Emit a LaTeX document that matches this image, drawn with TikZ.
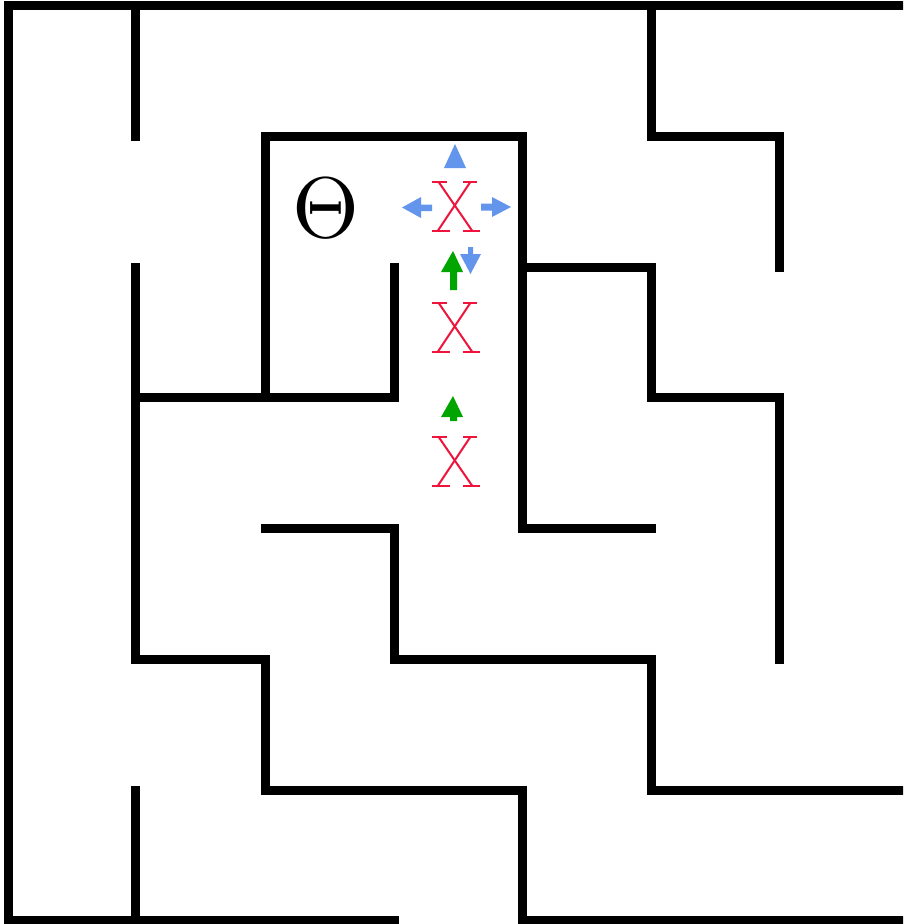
\documentclass[tikz,border=0pt]{standalone}
\usepackage{graphicx}
\definecolor{mazeblue}{RGB}{100,149,237}
\definecolor{mazegreen}{RGB}{0,165,0}
\definecolor{mazered}{RGB}{238,20,60}
\tikzset{
  wall/.style={line width=9pt, line cap=rect, line join=miter, black},
  xstroke/.style={line width=2pt, mazered, line cap=butt},
  redx/.pic={
    \draw[xstroke] (-16,-24) -- (17,24);
    \draw[xstroke] (15,-24) -- (-17,24);
    \draw[xstroke] (-23,-24.5) -- (-8,-24.5);
    \draw[xstroke] (8,-24.5) -- (22,-24.5);
    \draw[xstroke] (-23,24.5) -- (-5,24.5);
    \draw[xstroke] (8,24.5) -- (25,24.5);
  },
  bluefill/.style={fill=mazeblue, draw=none},
  greenfill/.style={fill=mazegreen, draw=none}
}
\begin{document}
\begin{tikzpicture}[x=1pt,y=-1pt]
\useasboundingbox (0,0) rectangle (903,924);
\clip (0,0) rectangle (903,924);
\fill[white] (0,0) rectangle (903,924);
% grid
\def\XA{8}\def\XB{135.5}\def\XC{265}\def\XD{394.5}\def\XE{522}\def\XF{651}\def\XG{779.5}\def\XH{909}
\def\YA{5.5}\def\YB{136.5}\def\YC{267}\def\YD{397}\def\YE{528}\def\YF{659}\def\YG{790.5}\def\YH{920.5}
% outer walls
\draw[wall] (\XA,\YA) -- (\XH,\YA);
\draw[wall] (\XA,\YA) -- (\XA,\YH);
\draw[wall] (\XA,\YH) -- (\XD,\YH);
\draw[wall] (\XE,\YH) -- (\XH,\YH);
% inner walls
\draw[wall] (\XB,\YA) -- (\XB,\YB);
\draw[wall] (\XB,\YC) -- (\XB,\YF);
\draw[wall] (\XB,\YG) -- (\XB,\YH);
\draw[wall] (\XF,\YA) -- (\XF,\YB) -- (\XG,\YB) -- (\XG,\YC);
\draw[wall] (\XC,\YD) -- (\XC,\YB) -- (\XE,\YB) -- (\XE,\YE) -- (\XF,\YE);
\draw[wall] (\XB,\YD) -- (\XD,\YD) -- (\XD,\YC);
\draw[wall] (\XE,\YC) -- (\XF,\YC) -- (\XF,\YD) -- (\XG,\YD) -- (\XG,\YF);
\draw[wall] (\XC,\YE) -- (\XD,\YE) -- (\XD,\YF) -- (\XF,\YF) -- (\XF,\YG) -- (\XH,\YG);
\draw[wall] (\XB,\YF) -- (\XC,\YF) -- (\XC,\YG) -- (\XE,\YG) -- (\XE,\YH);
% Theta
\node[inner sep=0pt, anchor=center] (theta) at (326,208) {\scalebox{8.6}{$\Theta$}};
% red X marks
\pic (xa) at (455,206.5) {redx};
\pic (xb) at (455,327.5) {redx};
\pic (xc) at (455,461.5) {redx};
% blue arrows around top X
\fill[bluefill] (444,168) -- (455,144) -- (466,168) -- cycle;
\fill[bluefill] (402,207.5) -- (421,197) -- (421,204.5) -- (432,204.5) -- (432,211) -- (421,211) -- (421,218) -- cycle;
\fill[bluefill] (511,207) -- (492,197) -- (492,203.5) -- (481,203.5) -- (481,210.5) -- (492,210.5) -- (492,217) -- cycle;
% green arrows
\fill[greenfill] (441,272) -- (453,251) -- (463,272) -- (457,272) -- (457,290) -- (450,290) -- (450,272) -- cycle;
\fill[greenfill] (441,417) -- (453,396) -- (463,417) -- (457,417) -- (457,421) -- (450,421) -- (450,417) -- cycle;
% blue down arrow
\fill[bluefill] (468,247) -- (473,247) -- (473,254) -- (481,254) -- (470.5,274) -- (460,254) -- (468,254) -- cycle;
\end{tikzpicture}
\end{document}
